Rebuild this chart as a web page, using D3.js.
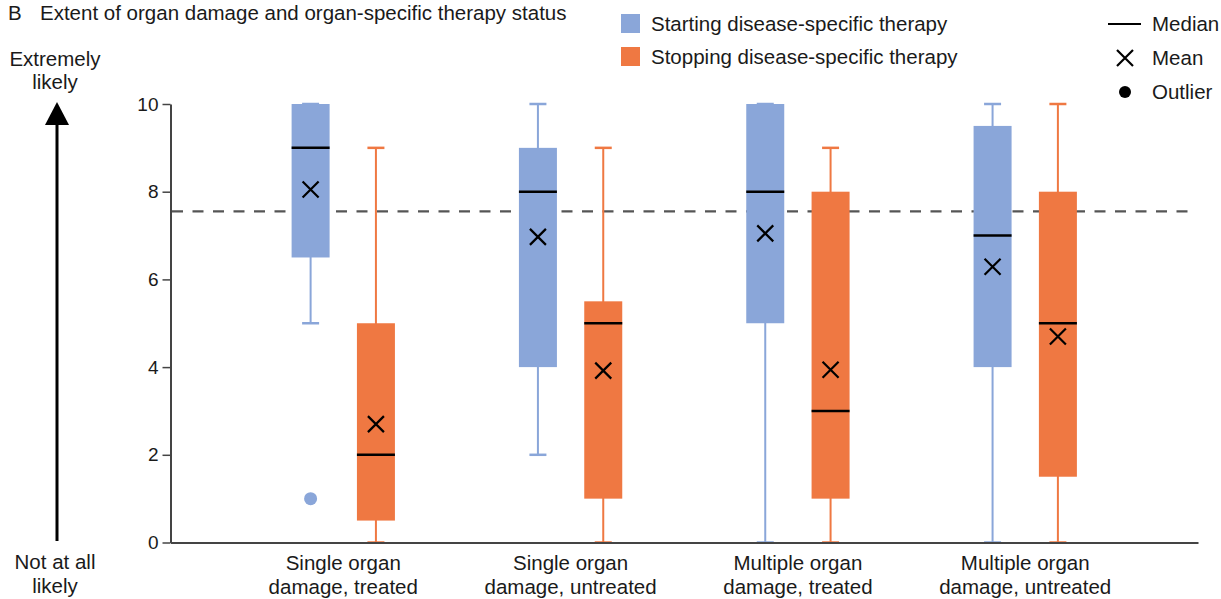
<!DOCTYPE html>
<html lang="en">
<head>
<meta charset="UTF-8">
<title>Extent of organ damage and organ-specific therapy status</title>
<script src="https://cdn.jsdelivr.net/npm/d3@7"></script>
<style>
  body { margin: 0; background: #fff; }
  svg { display: block; font-family: "Liberation Sans", Arial, sans-serif; }
</style>
</head>
<body>
<div id="chart"></div>
<script>
// categories (two-line labels)
var categories = [
  ["Single organ", "damage, treated"],
  ["Single organ", "damage, untreated"],
  ["Multiple organ", "damage, treated"],
  ["Multiple organ", "damage, untreated"]
];
var seriesNames = ["Starting disease-specific therapy", "Stopping disease-specific therapy"];

// Starting therapy (blue)
var startMin    = [5, 2, 0, 0];
var startQ1     = [6.5, 4, 5, 4];
var startMedian = [9, 8, 8, 7];
var startQ3     = [10, 9, 10, 9.5];
var startMax    = [10, 10, 10, 10];
var startMean   = [8.05, 6.97, 7.05, 6.29];
var startOutliers = [[1], [], [], []];

// Stopping therapy (orange)
var stopMin    = [0, 0, 0, 0];
var stopQ1     = [0.5, 1, 1, 1.5];
var stopMedian = [2, 5, 3, 5];
var stopQ3     = [5, 5.5, 8, 8];
var stopMax    = [9, 9, 9, 10];
var stopMean   = [2.7, 3.92, 3.94, 4.7];
var stopOutliers = [[], [], [], []];

var refLine = 7.55;
var yTicks = [0, 2, 4, 6, 8, 10];

var colors = ["#8aa6d9", "#ef7842"];
var fs = 20.5;

var width = 1221, height = 599;
var svg = d3.select("#chart").append("svg")
  .attr("width", width)
  .attr("height", height);

var keys = categories.map(function(c) { return c.join(" "); });

var x = d3.scaleBand()
  .domain(keys)
  .range([170.5, 1198])
  .paddingInner(0)
  .paddingOuter(0.26);

var xSub = d3.scalePoint()
  .domain([0, 1])
  .range([0, x.bandwidth()])
  .padding(1.24);

var y = d3.scaleLinear()
  .domain([0, 10])
  .range([542.5, 104]);

var boxW = 38, capW = 17;

// build box rows
var boxes = [];
keys.forEach(function(k, i) {
  boxes.push({ key: k, s: 0, min: startMin[i], q1: startQ1[i], med: startMedian[i], q3: startQ3[i], max: startMax[i], mean: startMean[i], out: startOutliers[i] });
  boxes.push({ key: k, s: 1, min: stopMin[i], q1: stopQ1[i], med: stopMedian[i], q3: stopQ3[i], max: stopMax[i], mean: stopMean[i], out: stopOutliers[i] });
});

// title
svg.append("text").attr("x", 8).attr("y", 20).attr("font-size", fs).attr("fill", "#1a1a1a").text("B");
svg.append("text").attr("x", 40).attr("y", 20).attr("font-size", fs).attr("fill", "#1a1a1a")
  .text("Extent of organ damage and organ-specific therapy status");

// left arrow
var ax = 57;
svg.append("line").attr("x1", ax).attr("x2", ax).attr("y1", 541).attr("y2", 120)
  .attr("stroke", "#000").attr("stroke-width", 3);
svg.append("path").attr("d", "M" + ax + ",102 L" + (ax - 12) + ",125 L" + (ax + 12) + ",125 Z").attr("fill", "#000");
[["Extremely", 66], ["likely", 89], ["Not at all", 569], ["likely", 593]].forEach(function(t) {
  svg.append("text").attr("x", ax - 2).attr("y", t[1]).attr("text-anchor", "middle")
    .attr("font-size", fs).attr("fill", "#1a1a1a").text(t[0]);
});

// y axis
var yAxis = svg.append("g")
  .attr("transform", "translate(170.5,0)")
  .call(d3.axisLeft(y).tickValues(yTicks).tickSize(8).tickSizeOuter(0).tickPadding(4));
yAxis.select(".domain").attr("stroke", "#444").attr("stroke-width", 2);
yAxis.selectAll(".tick line").attr("stroke", "#444").attr("stroke-width", 1.5);
yAxis.selectAll(".tick text").attr("font-size", 19).attr("fill", "#1a1a1a")
  .attr("font-family", "Liberation Sans, Arial, sans-serif");

// reference line
svg.append("line")
  .attr("x1", 172).attr("x2", 1192)
  .attr("y1", y(refLine)).attr("y2", y(refLine))
  .attr("stroke", "#555").attr("stroke-width", 2.2)
  .attr("stroke-dasharray", "11,9.5");

// boxes
var g = svg.selectAll(".box").data(boxes).enter().append("g")
  .attr("class", "box")
  .attr("transform", function(d) { return "translate(" + (x(d.key) + xSub(d.s)) + ",0)"; });

// whiskers
g.append("line").attr("x1", 0).attr("x2", 0)
  .attr("y1", function(d) { return y(d.min); })
  .attr("y2", function(d) { return y(d.max); })
  .attr("stroke", function(d) { return colors[d.s]; }).attr("stroke-width", 2);
g.append("line").attr("x1", -capW / 2).attr("x2", capW / 2)
  .attr("y1", function(d) { return y(d.max); }).attr("y2", function(d) { return y(d.max); })
  .attr("stroke", function(d) { return colors[d.s]; }).attr("stroke-width", 2.5);
g.append("line").attr("x1", -capW / 2).attr("x2", capW / 2)
  .attr("y1", function(d) { return y(d.min); }).attr("y2", function(d) { return y(d.min); })
  .attr("stroke", function(d) { return colors[d.s]; }).attr("stroke-width", 2.5);

g.append("rect")
  .attr("x", -boxW / 2).attr("width", boxW)
  .attr("y", function(d) { return y(d.q3); })
  .attr("height", function(d) { return y(d.q1) - y(d.q3); })
  .attr("fill", function(d) { return colors[d.s]; });

// median
g.append("line").attr("x1", -boxW / 2).attr("x2", boxW / 2)
  .attr("y1", function(d) { return y(d.med); }).attr("y2", function(d) { return y(d.med); })
  .attr("stroke", "#000").attr("stroke-width", 2.5);

// mean X
function cross(sel, cx, cy, r) {
  sel.append("path")
    .attr("d", "M" + (cx - r) + "," + (cy - r) + "L" + (cx + r) + "," + (cy + r) +
               "M" + (cx - r) + "," + (cy + r) + "L" + (cx + r) + "," + (cy - r))
    .attr("stroke", "#000").attr("stroke-width", 2.2).attr("fill", "none");
}
g.each(function(d) { cross(d3.select(this), 0, y(d.mean), 8); });

// outliers
g.each(function(d) {
  d3.select(this).selectAll(".out").data(d.out).enter().append("circle")
    .attr("cx", 0).attr("cy", function(v) { return y(v); }).attr("r", 6.5)
    .attr("fill", colors[d.s]);
});

// x axis
var xAxis = svg.append("g")
  .attr("transform", "translate(0," + y(0) + ")")
  .call(d3.axisBottom(x).tickSize(0).tickFormat(""));
xAxis.select(".domain").attr("stroke", "#444").attr("stroke-width", 2);

// category labels
var lab = svg.selectAll(".cat").data(categories).enter().append("text")
  .attr("class", "cat")
  .attr("text-anchor", "middle")
  .attr("font-size", fs).attr("fill", "#1a1a1a");
lab.selectAll("tspan").data(function(d, i) { return d.map(function(t) { return { t: t, k: keys[i] }; }); })
  .enter().append("tspan")
  .attr("x", function(d) { return x(d.k) + x.bandwidth() / 2; })
  .attr("y", function(d, j) { return 570 + j * 24; })
  .text(function(d) { return d.t; });

// legend: series
seriesNames.forEach(function(name, i) {
  svg.append("rect").attr("x", 621).attr("y", 14 + i * 33).attr("width", 19).attr("height", 19).attr("fill", colors[i]);
  svg.append("text").attr("x", 651).attr("y", 31 + i * 33).attr("font-size", fs).attr("fill", "#1a1a1a").text(name);
});

// legend: symbols
svg.append("line").attr("x1", 1108).attr("x2", 1141).attr("y1", 24).attr("y2", 24).attr("stroke", "#000").attr("stroke-width", 2);
svg.append("text").attr("x", 1152).attr("y", 31).attr("font-size", fs).attr("fill", "#1a1a1a").text("Median");
cross(svg, 1125, 58, 8);
svg.append("text").attr("x", 1152).attr("y", 65).attr("font-size", fs).attr("fill", "#1a1a1a").text("Mean");
svg.append("circle").attr("cx", 1125).attr("cy", 92).attr("r", 6).attr("fill", "#000");
svg.append("text").attr("x", 1152).attr("y", 99).attr("font-size", fs).attr("fill", "#1a1a1a").text("Outlier");
</script>
</body>
</html>
